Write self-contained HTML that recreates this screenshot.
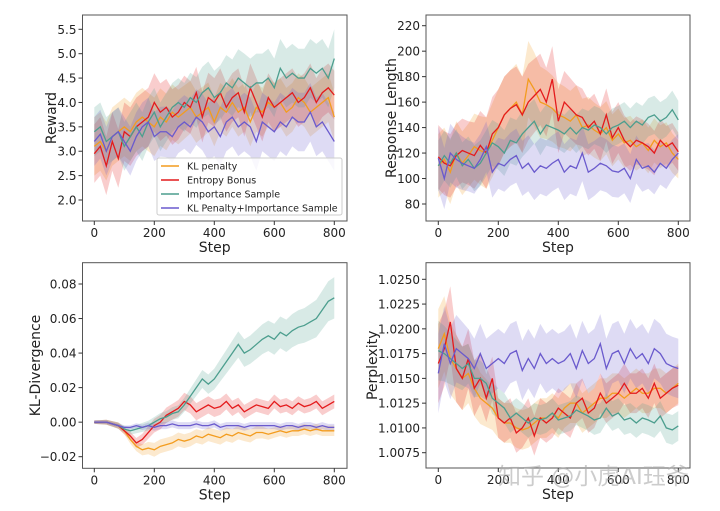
<!DOCTYPE html>
<html><head><meta charset="utf-8"><style>
body{margin:0;background:#fff;width:720px;height:507px;overflow:hidden;font-family:"DejaVu Sans","Liberation Sans",sans-serif}
svg text{font-family:"DejaVu Sans","Liberation Sans","Noto Sans CJK SC",sans-serif}
</style></head><body>
<svg id="c" width="720" height="507"></svg>
<script>
const steps=[];for(let s=0;s<=800;s+=20)steps.push(s);
const seriesNames=["KL penalty","Entropy Bonus","Importance Sample","KL Penalty+Importance Sample"];
const colors=["#f39c1e","#e41a1c","#4c9e8e","#6a5acd"];
const rewardKL=[3.1,3.2,3.0,3.3,3.4,3.5,3.4,3.6,3.7,3.6,3.5,3.7,3.6,3.8,3.7,3.8,3.9,3.7,3.8,3.9,3.6,3.9,3.8,4.0,3.8,3.9,3.6,3.9,3.8,4.0,3.9,4.0,3.8,3.9,4.1,4.0,3.8,3.9,4.0,4.1,3.7];
const rewardEnt=[2.95,3.1,2.7,3.2,2.85,3.4,3.3,3.5,3.6,3.7,4.0,3.8,3.9,3.7,3.8,4.0,3.9,4.2,3.7,4.1,4.0,4.2,3.9,4.1,4.2,3.8,4.3,4.0,3.7,4.1,3.9,4.0,4.1,4.2,4.0,4.1,4.3,4.0,4.2,4.3,4.15];
const rewardIS=[3.4,3.5,3.2,3.3,3.4,3.1,3.3,3.5,3.3,3.6,3.8,3.5,3.7,3.9,4.0,3.9,4.1,4.0,4.2,4.3,4.1,4.2,4.4,4.3,4.5,4.4,4.3,4.4,4.4,4.5,4.3,4.7,4.5,4.6,4.5,4.5,4.7,4.6,4.7,4.5,4.9];
const rewardKLIS=[3.2,3.35,3.0,3.3,3.4,3.2,3.0,3.3,3.5,3.6,3.3,3.4,3.4,3.3,3.5,3.6,3.5,3.7,3.6,3.4,3.5,3.3,3.6,3.7,3.5,3.6,3.5,3.2,3.6,3.5,3.4,3.6,3.5,3.7,3.6,3.6,3.8,3.5,3.6,3.4,3.2];
const rewardSpread=[[0.6,0.6,0.6,0.55,0.5,0.5,0.5,0.5,0.5],[0.6,0.6,0.6,0.55,0.5,0.5,0.5,0.5,0.5],[0.5,0.5,0.5,0.5,0.55,0.6,0.6,0.6,0.6],[0.5,0.5,0.5,0.55,0.6,0.6,0.6,0.6,0.6]];
const lenKL=[110,115,105,120,112,118,125,122,120,130,140,150,155,160,150,178,170,160,158,155,150,148,145,150,140,142,138,135,140,130,135,128,130,125,128,122,130,125,128,120,115];
const lenEnt=[117,112,110,118,122,120,118,126,120,135,140,150,155,158,150,160,165,170,160,178,145,160,155,150,148,140,145,135,150,132,140,130,125,130,128,125,120,130,125,128,121];
const lenIS=[110,118,112,120,110,115,108,112,120,128,125,120,130,128,135,140,145,135,142,140,138,135,140,135,140,138,142,140,135,140,142,145,140,145,142,148,150,145,148,154,146];
const lenKLIS=[116,100,120,115,112,110,108,115,125,105,112,110,115,118,108,112,105,110,108,112,115,105,110,108,120,105,108,112,110,106,105,108,100,115,108,110,105,112,108,115,120];
const lenSpread=[[25,25,30,30,25,22,20,18,15],[25,25,30,30,25,22,20,18,15],[20,18,18,18,15,15,15,15,15],[25,20,20,22,22,22,20,18,15]];
const klKL=[0,0,0,-0.001,-0.002,-0.005,-0.01,-0.014,-0.016,-0.015,-0.016,-0.014,-0.013,-0.012,-0.01,-0.011,-0.01,-0.008,-0.009,-0.007,-0.008,-0.009,-0.007,-0.008,-0.006,-0.007,-0.008,-0.006,-0.006,-0.007,-0.006,-0.005,-0.006,-0.005,-0.005,-0.004,-0.005,-0.004,-0.005,-0.005,-0.005];
const klEnt=[0,0,0,-0.001,-0.002,-0.005,-0.008,-0.012,-0.01,-0.006,-0.002,0,0.004,0.006,0.008,0.012,0.01,0.006,0.008,0.01,0.008,0.009,0.012,0.008,0.01,0.006,0.008,0.01,0.009,0.008,0.012,0.009,0.01,0.008,0.011,0.009,0.01,0.012,0.008,0.01,0.012];
const klIS=[0,0,0,-0.001,-0.002,-0.004,-0.005,-0.004,-0.003,-0.002,0,0.002,0.003,0.005,0.006,0.01,0.015,0.02,0.025,0.022,0.025,0.03,0.035,0.04,0.045,0.04,0.042,0.045,0.048,0.05,0.048,0.052,0.05,0.053,0.055,0.056,0.058,0.06,0.065,0.07,0.072];
const klKLIS=[0,0,0,-0.001,-0.002,-0.003,-0.003,-0.002,-0.003,-0.002,-0.003,-0.002,-0.002,-0.001,-0.002,-0.002,-0.002,-0.001,-0.002,-0.002,-0.001,-0.003,-0.002,-0.002,-0.002,-0.003,-0.002,-0.002,-0.002,-0.002,-0.002,-0.003,-0.002,-0.002,-0.003,-0.002,-0.002,-0.003,-0.002,-0.003,-0.003];
const klSpread=[[0.001,0.002,0.004,0.004,0.004,0.004,0.003,0.003,0.003],[0.001,0.002,0.004,0.005,0.005,0.004,0.004,0.004,0.004],[0.001,0.002,0.003,0.004,0.006,0.008,0.009,0.01,0.012],[0.001,0.001,0.002,0.002,0.002,0.002,0.002,0.002,0.002]];
const pplKL=[1.018,1.0195,1.017,1.016,1.015,1.0155,1.014,1.013,1.0125,1.012,1.011,1.0105,1.0105,1.010,1.0098,1.010,1.0105,1.011,1.011,1.0115,1.011,1.012,1.0125,1.0125,1.0115,1.012,1.0125,1.013,1.013,1.0135,1.0135,1.013,1.0135,1.014,1.0135,1.0135,1.014,1.014,1.0135,1.014,1.0145];
const pplEnt=[1.0165,1.018,1.0207,1.016,1.015,1.017,1.014,1.015,1.013,1.015,1.011,1.0105,1.011,1.0095,1.010,1.011,1.0092,1.011,1.0105,1.011,1.012,1.0115,1.011,1.0125,1.013,1.0115,1.012,1.0135,1.0125,1.013,1.0135,1.0145,1.0135,1.0135,1.014,1.013,1.0145,1.013,1.0135,1.014,1.0143];
const pplIS=[1.0178,1.0175,1.017,1.0165,1.016,1.0165,1.015,1.015,1.0145,1.013,1.0125,1.012,1.011,1.0115,1.011,1.0105,1.011,1.0108,1.011,1.0115,1.0108,1.011,1.0112,1.0118,1.0115,1.0112,1.0108,1.011,1.012,1.0112,1.0115,1.0108,1.011,1.0105,1.011,1.0108,1.0105,1.0112,1.01,1.0098,1.0102];
const pplKLIS=[1.0155,1.0185,1.0165,1.018,1.0175,1.017,1.016,1.0175,1.016,1.0165,1.017,1.0165,1.0175,1.0178,1.0158,1.017,1.016,1.0175,1.0165,1.017,1.0165,1.0168,1.0175,1.016,1.0178,1.0165,1.017,1.0185,1.016,1.0175,1.0178,1.0165,1.018,1.017,1.0175,1.0165,1.018,1.0175,1.0165,1.0162,1.016];
const pplSpread=[[0.004,0.003,0.002,0.002,0.002,0.002,0.002,0.002,0.002],[0.004,0.003,0.002,0.002,0.002,0.002,0.002,0.002,0.002],[0.003,0.002,0.0015,0.0015,0.0015,0.0015,0.0015,0.0015,0.0015],[0.004,0.003,0.003,0.003,0.003,0.003,0.003,0.003,0.003]];
const xTicks=[0,200,400,600,800];
const rewardTicks=["2.0","2.5","3.0","3.5","4.0","4.5","5.0","5.5"];
const lenTicks=["80","100","120","140","160","180","200","220"];
const klTicks=["−0.02","0.00","0.02","0.04","0.06","0.08"];
const klTickVals=[-0.02,0,0.02,0.04,0.06,0.08];
const pplTicks=["1.0075","1.0100","1.0125","1.0150","1.0175","1.0200","1.0225","1.0250"];

const NS="http://www.w3.org/2000/svg",svg=document.getElementById('c');
function el(t,a,p){const e=document.createElementNS(NS,t);for(const k in a)e.setAttribute(k,a[k]);(p||svg).appendChild(e);return e;}
function spreadAt(sp,i){const f=steps[i]/100,k=Math.min(7,Math.floor(f)),r=f-k;return sp[k]*(1-r)+sp[k+1]*r;}
function panel(o){
 const g=el('g',{});
 
 const X=v=>o.x0+(v/800)*(o.x800-o.x0), Y=v=>o.ya+(v-o.va)*(o.yb-o.ya)/(o.vb-o.va);
 o.series.forEach((s,si)=>{
  let up='',lo='';
  s.forEach((v,i)=>{const d=spreadAt(o.spread[si],i);up+=(i?'L':'M')+X(steps[i])+','+Y(v+d);});
  for(let i=s.length-1;i>=0;i--){const d=spreadAt(o.spread[si],i);lo+='L'+X(steps[i])+','+Y(s[i]-d);}
  const b=el('path',{d:up+lo+'Z',fill:colors[si],'fill-opacity':0.22,stroke:'none'},g);
  
 });
 o.series.forEach((s,si)=>{
  const l=el('polyline',{points:s.map((v,i)=>X(steps[i])+','+Y(v)).join(' '),fill:'none',stroke:colors[si],'stroke-width':1.3},g);
  
 });
 const fr=el('rect',{x:o.L,y:o.T,width:o.R-o.L,height:o.B-o.T,fill:'none',stroke:'#555','stroke-width':1},g);
 
 xTicks.forEach(t=>{el('line',{x1:X(t),x2:X(t),y1:o.B,y2:o.B+4,stroke:'#333'},g);
  const tx=el('text',{x:X(t),y:o.B+16,'font-size':12,'text-anchor':'middle',fill:'#222'},g);tx.textContent=t;
  });
 o.yl.forEach((t,i)=>{const v=o.yv[i];el('line',{x1:o.L-4,x2:o.L,y1:Y(v),y2:Y(v),stroke:'#333'},g);
  const tx=el('text',{x:o.L-6,y:Y(v)+4.5,'font-size':12,'text-anchor':'end',fill:'#222'},g);tx.textContent=t;
  });
 const xt=el('text',{x:(o.L+o.R)/2,y:o.B+31,'font-size':14,'text-anchor':'middle',fill:'#222'},g);xt.textContent='Step';
 
 const cy=(o.T+o.B)/2;const yt=el('text',{x:o.ylx,y:cy,'font-size':14,'text-anchor':'middle',fill:'#222',transform:`rotate(-90 ${o.ylx} ${cy})`},g);yt.textContent=o.ylabel;
 
}
panel({name:'reward-panel',L:82.5,R:347,T:15,B:221,x0:94.3,x800:334.3,ya:29.3,va:5.5,yb:200,vb:2.0,series:[rewardKL,rewardEnt,rewardIS,rewardKLIS],spread:rewardSpread,yl:rewardTicks,yv:rewardTicks.map(Number),ylabel:'Reward',ylx:56});
panel({name:'length-panel',L:426,R:690,T:15,B:221,x0:438.3,x800:678.3,ya:25.7,va:220,yb:204,vb:80,series:[lenKL,lenEnt,lenIS,lenKLIS],spread:lenSpread,yl:lenTicks,yv:lenTicks.map(Number),ylabel:'Response Length',ylx:396});
panel({name:'kl-panel',L:82.5,R:347,T:262.7,B:468.3,x0:94.3,x800:334.3,ya:284,va:0.08,yb:456.7,vb:-0.02,series:[klKL,klEnt,klIS,klKLIS],spread:klSpread,yl:klTicks,yv:klTickVals,ylabel:'KL-Divergence',ylx:40});
panel({name:'perplexity-panel',L:426,R:690,T:262.7,B:468,x0:438.3,x800:678.3,ya:279.3,va:1.025,yb:452.7,vb:1.0075,series:[pplKL,pplEnt,pplIS,pplKLIS],spread:pplSpread,yl:pplTicks,yv:pplTicks.map(Number),ylabel:'Perplexity',ylx:377});
// legend
const lg=el('g',{});
el('rect',{x:157,y:158,width:185,height:57,fill:'#fff','fill-opacity':0.8,stroke:'#ccc',rx:2},lg);
seriesNames.forEach((n,i)=>{const y=166+i*14;
 el('line',{x1:161,x2:179,y1:y,y2:y,stroke:colors[i],'stroke-width':1.5},lg);
 const t=el('text',{x:187,y:y+3.5,'font-size':9.5,fill:'#222'},lg);t.textContent=n;
 });
const wm=el('text',{x:498,y:484,'font-size':23,fill:'#aaa','fill-opacity':0.6},svg);wm.textContent='知乎 @小虎AI珏爷';

</script></body></html>
